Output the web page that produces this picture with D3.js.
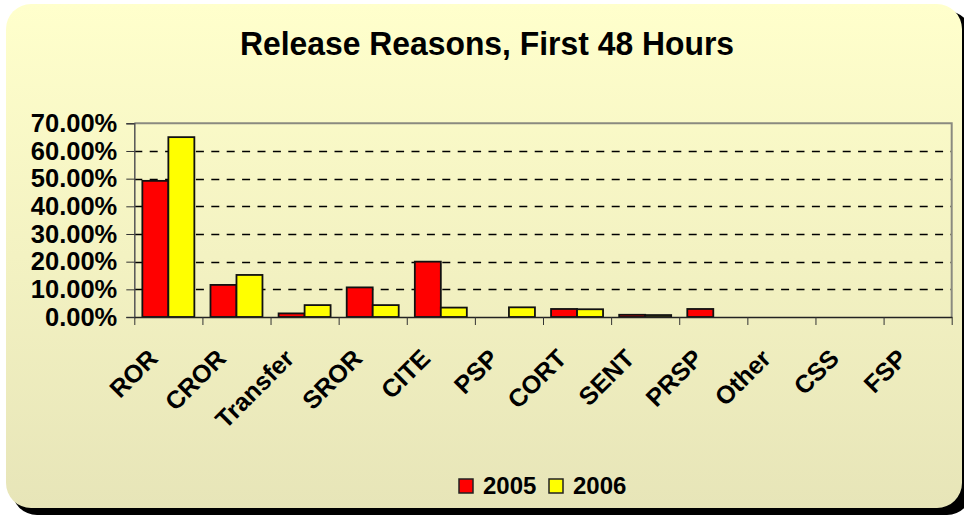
<!DOCTYPE html>
<html>
<head>
<meta charset="utf-8">
<script src="https://cdn.jsdelivr.net/npm/d3@7"></script>
<style>
  html, body { margin: 0; padding: 0; background: #ffffff; }
  svg { display: block; font-family: "Liberation Sans", Arial, sans-serif; }
</style>
</head>
<body>
<svg id="chart" width="964" height="517"></svg>
<script>
const title = "Release Reasons, First 48 Hours";
const categories = ["ROR", "CROR", "Transfer", "SROR", "CITE", "PSP", "CORT", "SENT", "PRSP", "Other", "CSS", "FSP"];
const seriesNames = ["2005", "2006"];
const values2005 = [0.492, 0.116, 0.013, 0.107, 0.200, 0.000, 0.029, 0.008, 0.029, 0, 0, 0];
const values2006 = [0.650, 0.152, 0.043, 0.043, 0.034, 0.035, 0.028, 0.007, 0.000, 0, 0, 0];
const yTicks = [0, 0.1, 0.2, 0.3, 0.4, 0.5, 0.6, 0.7];
const colors = ["#FF0000", "#FFFF00"];

const svg = d3.select("#chart");

// background gradient
const defs = svg.append("defs");
const grad = defs.append("linearGradient").attr("id", "bg").attr("x1", 0).attr("y1", 0).attr("x2", 0).attr("y2", 1);
grad.append("stop").attr("offset", "0%").attr("stop-color", "#FFFFCC");
grad.append("stop").attr("offset", "100%").attr("stop-color", "#E7E5B8");

// shadow + panel
svg.append("rect").attr("x", 12).attr("y", 11).attr("width", 960).attr("height", 504)
  .attr("rx", 25).attr("fill", "#000");
svg.append("rect").attr("x", 6).attr("y", 4).attr("width", 956).attr("height", 504)
  .attr("rx", 25).attr("fill", "url(#bg)");

// title
svg.append("text").attr("x", 487).attr("y", 55).attr("text-anchor", "middle")
  .attr("font-size", 34).attr("font-weight", "bold").attr("fill", "#000")
  .attr("textLength", 494).attr("lengthAdjust", "spacingAndGlyphs")
  .text(title);

const plot = { left: 134.3, right: 951.7, top: 123.3, bottom: 317 };

const x = d3.scaleBand().domain(categories).range([plot.left, plot.right]).paddingInner(0).paddingOuter(0);
const xs = d3.scaleBand().domain(seriesNames).range([0, x.bandwidth()]).paddingInner(0).paddingOuter(0.31);
const y = d3.scaleLinear().domain([0, 0.7]).range([plot.bottom, plot.top]);
const xIdx = d3.scaleLinear().domain([0, categories.length]).range([plot.left, plot.right]);

// gridlines
svg.append("g").selectAll("line").data(yTicks.filter(t => t > 0 && t < 0.7)).join("line")
  .attr("x1", plot.left).attr("x2", plot.right)
  .attr("y1", d => Math.round(y(d)) + 0.5).attr("y2", d => Math.round(y(d)) + 0.5)
  .attr("stroke", "#000").attr("stroke-width", 1.3).attr("stroke-dasharray", "8,7.4");

// plot border top & right (gray)
svg.append("path")
  .attr("d", `M${plot.left},${plot.top}H${plot.right}V${plot.bottom}`)
  .attr("fill", "none").attr("stroke", "#8a8a80").attr("stroke-width", 2);

// bars
const series = [values2005, values2006];
const barData = [];
categories.forEach((c, i) => {
  seriesNames.forEach((s, j) => {
    barData.push({ cat: c, s: s, v: series[j][i], color: colors[j] });
  });
});
svg.append("g").selectAll("rect").data(barData.filter(d => d.v > 0)).join("rect")
  .attr("x", d => x(d.cat) + xs(d.s))
  .attr("width", xs.bandwidth())
  .attr("y", d => y(d.v))
  .attr("height", d => y(0) - y(d.v))
  .attr("fill", d => d.color)
  .attr("stroke", "#111").attr("stroke-width", 1.8);

// y axis
const yAxis = svg.append("g").attr("transform", `translate(${plot.left},0)`)
  .call(d3.axisLeft(y).tickValues(yTicks).tickFormat(d3.format(".2%")).tickSize(8).tickPadding(9));
yAxis.select(".domain").attr("stroke", "#555").attr("stroke-width", 1.5);
yAxis.selectAll(".tick line").attr("stroke", "#333");
yAxis.selectAll("text").attr("font-size", 25.5).attr("font-weight", "bold").attr("fill", "#000")
  .attr("font-family", "'Liberation Sans', Arial, sans-serif");

// x axis ticks at category boundaries
const xAxis = svg.append("g").attr("transform", `translate(0,${plot.bottom})`)
  .call(d3.axisBottom(xIdx).tickValues(d3.range(categories.length + 1)).tickFormat("").tickSize(8).tickSizeOuter(0));
xAxis.select(".domain").attr("stroke", "#222").attr("stroke-width", 1.5);
xAxis.selectAll(".tick line").attr("stroke", "#333");

// x labels
svg.append("g").selectAll("text").data(categories).join("text")
  .attr("transform", d => `translate(${x(d) + x.bandwidth() / 2 - 9},${plot.bottom + 43}) rotate(-45)`)
  .attr("text-anchor", "end")
  .attr("font-size", 25).attr("font-weight", "bold").attr("fill", "#000")
  .text(d => d);

// legend
const legend = svg.append("g");
const legendItems = [
  { name: seriesNames[0], color: colors[0], x: 459 },
  { name: seriesNames[1], color: colors[1], x: 549 }
];
legendItems.forEach(it => {
  legend.append("rect").attr("x", it.x).attr("y", 479).attr("width", 14).attr("height", 14)
    .attr("fill", it.color).attr("stroke", "#222").attr("stroke-width", 1.5);
  legend.append("text").attr("x", it.x + 24).attr("y", 494)
    .attr("font-size", 24).attr("font-weight", "bold").attr("fill", "#000").text(it.name);
});
</script>
</body>
</html>
